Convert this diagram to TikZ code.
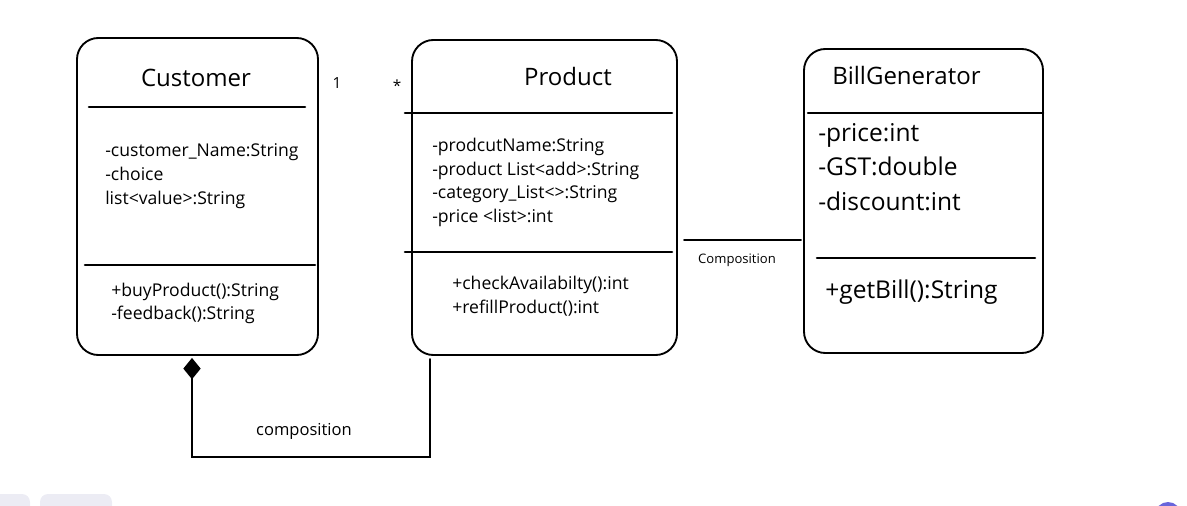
\documentclass[tikz,border=0pt]{standalone}
\usepackage{fontspec}
\setmainfont{Open Sans}
\usetikzlibrary{arrows.meta,positioning,calc}
\definecolor{uigray}{HTML}{ECECF4}
\definecolor{uipurple}{HTML}{6965DB}

\begin{document}
\begin{tikzpicture}[x=0.75pt,y=-0.75pt,line cap=round]
\tikzstyle{classbox}=[draw,line width=1.4pt,rounded corners=16pt,inner sep=0pt]
\tikzstyle{sep}=[line width=1.9pt]
\tikzstyle{title}=[font=\fontsize{18}{21}\selectfont,inner sep=0pt]
\tikzstyle{attr}=[font=\fontsize{13.2}{17.8}\selectfont,align=left,anchor=west,inner sep=0pt]
\tikzstyle{bigattr}=[font=\fontsize{18.4}{26}\selectfont,align=left,anchor=west,inner sep=0pt]
\tikzstyle{link}=[line width=1.1pt]
\useasboundingbox (0,0) rectangle (1187,506);

% classes
\node [classbox,minimum width=241*0.75pt,minimum height=317*0.75pt] (cust) at (197.5,196.5) {};
\node [title] (custname) at (196,78) {Customer};
\draw [sep] (89,107) -- (305,107);
\node [attr] (custattr) at (105,176) {-customer\_Name:String\\-choice\\list<value>:String};
\draw [sep] (85,265) -- (315,265);
\node [attr] (custops) at (111,303.5) {+buyProduct():String\\-feedback():String};

\node [classbox,minimum width=265*0.75pt,minimum height=315*0.75pt] (prod) at (544.5,197.5) {};
\node [title] (prodname) at (568,77) {Product};
\draw [sep] (405,113) -- (672,113);
\node [attr] (prodattr) at (432,182.5) {-prodcutName:String\\-product List<add>:String\\-category\_List<>:String\\-price <list>:int};
\draw [sep] (405,252) -- (672,252);
\node [attr] (prodops) at (452,296) {+checkAvailabilty():int\\+refillProduct():int};

\node [classbox,minimum width=239*0.75pt,minimum height=304*0.75pt] (bill) at (923.5,201) {};
\node [title,anchor=west] (billname) at (832,76) {BillGenerator};
\draw [sep] (808,113) -- (1043,113);
\node [bigattr] (billattr) at (818,167) {-price:int\\-GST:double\\-discount:int};
\draw [sep] (817,258) -- (1035,258);
\node [bigattr] (billops) at (825,292) {+getBill():String};

% multiplicities
\node [font=\fontsize{11.5}{13}\selectfont] (one) at (337,83) {1};
\node [font=\fontsize{11.5}{13}\selectfont] (many) at (397,86) {*};

% links
\draw [link] ([shift={(6,42.5)}]prod.east) -- ([shift={(-2,39)}]bill.west);
\node [font=\fontsize{9.8}{11}\selectfont] (complbl) at (737,260) {Composition};

\draw [link,{Diamond[length=16pt,width=13pt]}-] ([shift={(-5.5,2)}]cust.south) |- ([shift={(-114.5,101)}]prod.south) -- ([shift={(-114.5,3)}]prod.south);
\node [font=\fontsize{12.4}{14}\selectfont] (custlbl) at (304,431) {composition};

% screen bits
\fill [uigray,rounded corners=6pt] (-10,494) rectangle (30,520);
\fill [uigray,rounded corners=6pt] (40,494) rectangle (112,520);
\fill [uipurple] (1168,515) circle (13);
\end{tikzpicture}
\end{document}
